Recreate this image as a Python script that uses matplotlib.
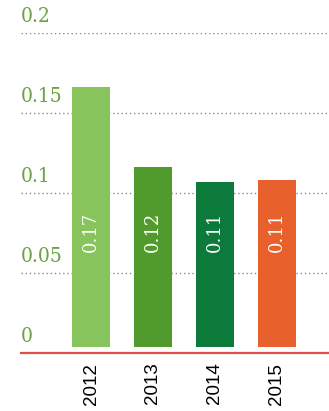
import matplotlib
matplotlib.use('Agg')
import matplotlib.pyplot as plt
import matplotlib.transforms as mtransforms

# data
years = ['2012', '2013', '2014', '2015']
values = [0.166, 0.116, 0.107, 0.108]
bar_labels = ['0.17', '0.12', '0.11', '0.11']
bar_colors = ['#88c45c', '#519a2c', '#0b7a3b', '#e8612c']
y_ticks = [0, 0.05, 0.1, 0.15, 0.2]
y_tick_labels = ['0', '0.05', '0.1', '0.15', '0.2']

LABEL_GREEN = '#6aa33f'
BASE_RED = '#e0504a'

fig = plt.figure(figsize=(3.29, 4.11), dpi=100)
ax = fig.add_axes([21 / 329, 58 / 411, 308 / 329, 320 / 411])

x = list(range(len(years)))
ax.bar(x, [v - 0.004 for v in values], bottom=0.004, width=0.6,
       color=bar_colors, zorder=3)

ax.set_ylim(0, 0.2)
ax.set_xlim(-1.13, 3.84)

# dotted grid lines, drawn under the bars
for t in y_ticks[1:]:
    ax.axhline(t, color='#8a8a8a', linestyle=(0, (1, 2)), linewidth=1.0, zorder=1)
ax.axhline(0, color=BASE_RED, linewidth=1.6, zorder=4, clip_on=False)

# y labels sit above their grid line at the left edge
trans = mtransforms.blended_transform_factory(ax.transAxes, ax.transData)
offset = mtransforms.ScaledTranslation(0, 5 / 72, fig.dpi_scale_trans)
for t, lab in zip(y_ticks, y_tick_labels):
    ax.text(0, t, lab, transform=trans + offset, ha='left', va='bottom',
            color=LABEL_GREEN, fontsize=15, family='DejaVu Serif',
            fontstretch='condensed')

# value labels inside the bars
for xi, lab in zip(x, bar_labels):
    ax.text(xi, 0.063, lab, rotation=90, ha='center', va='bottom',
            color='white', fontsize=13, family='DejaVu Serif', zorder=5)

ax.set_xticks(x)
ax.set_xticklabels(years, rotation=90, fontsize=13.5, family='Liberation Sans')
ax.tick_params(axis='x', length=0, pad=7)
ax.set_yticks([])
for s in ax.spines.values():
    s.set_visible(False)

fig.savefig('out.png', dpi=100)
